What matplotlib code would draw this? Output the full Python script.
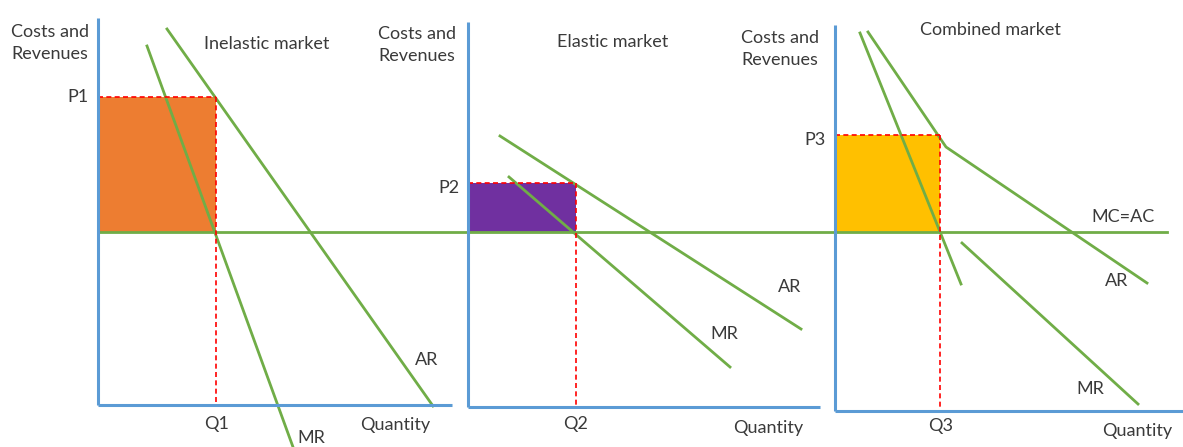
import matplotlib
matplotlib.use("Agg")
import matplotlib.pyplot as plt
from matplotlib.patches import Rectangle

plt.rcParams['font.family'] = ['Lato', 'DejaVu Sans']

# ---- data (diagram units = reference pixels, y grows downward) ----
mc_level = 232
mc_x = [98, 1167]

# Panel 1: inelastic market
p1_axis_x, p1_axis_top, p1_axis_bottom, p1_axis_right = 98, 18, 405, 452
p1_q, p1_price = 216, 97
p1_ar_x, p1_ar_y = [167, 433], [29, 406]
p1_mr_x, p1_mr_y = [147, 293], [46, 447]

# Panel 2: elastic market
p2_axis_x, p2_axis_top, p2_axis_bottom, p2_axis_right = 468, 22, 407, 820
p2_q, p2_price = 576, 183
p2_ar_x, p2_ar_y = [500, 801], [136, 329]
p2_mr_x, p2_mr_y = [509, 730], [177, 367]

# Panel 3: combined market
p3_axis_x, p3_axis_top, p3_axis_bottom, p3_axis_right = 835, 25, 411, 1183
p3_q, p3_price = 940, 135
p3_ar_x, p3_ar_y = [868, 946, 1147], [32, 147, 283]
p3_mr1_x, p3_mr1_y = [860, 961], [33, 284]
p3_mr2_x, p3_mr2_y = [962, 1138], [243, 404]

GREEN = '#70AD47'
BLUE = '#5B9BD5'
RED = '#FF0000'

fig = plt.figure(figsize=(11.83, 4.47), dpi=100)
ax = fig.add_axes([0, 0, 1, 1])
ax.set_xlim(0, 1183)
ax.set_ylim(447, 0)
ax.axis('off')

fs = 13
tcol = '#3a3a3a'

def panel(axx, top, bottom, right, q, price, fill):
    ax.add_patch(Rectangle((axx, price), q - axx, mc_level - price,
                           facecolor=fill, edgecolor='none', zorder=1))
    ax.plot([axx, q], [price, price], color=RED, lw=1.2, ls=(0, (3, 2)), zorder=3)
    ax.plot([q, q], [price, bottom], color=RED, lw=1.2, ls=(0, (3, 2)), zorder=3)
    ax.plot([axx, axx], [top, bottom], color=BLUE, lw=2.2, zorder=4, solid_capstyle='butt')
    ax.plot([axx, right], [bottom, bottom], color=BLUE, lw=2.2, zorder=4, solid_capstyle='butt')

panel(p1_axis_x, p1_axis_top, p1_axis_bottom, p1_axis_right, p1_q, p1_price, '#ED7D31')
panel(p2_axis_x, p2_axis_top, p2_axis_bottom, p2_axis_right, p2_q, p2_price, '#7030A0')
panel(p3_axis_x, p3_axis_top, p3_axis_bottom, p3_axis_right, p3_q, p3_price, '#FFC000')

ax.plot(mc_x, [mc_level, mc_level], color=GREEN, lw=2, zorder=2)
for xs, ys in [(p1_ar_x, p1_ar_y), (p1_mr_x, p1_mr_y), (p2_ar_x, p2_ar_y),
               (p2_mr_x, p2_mr_y), (p3_ar_x, p3_ar_y), (p3_mr1_x, p3_mr1_y),
               (p3_mr2_x, p3_mr2_y)]:
    ax.plot(xs, ys, color=GREEN, lw=2, zorder=2)

def t(x, y, s, ha='center'):
    ax.text(x, y, s, fontsize=fs, color=tcol, ha=ha, va='center', linespacing=1.5)

t(50, 43, 'Costs and\nRevenues')
t(417, 45, 'Costs and\nRevenues')
t(780, 49, 'Costs and\nRevenues')
t(267, 44, 'Inelastic market')
t(613, 42, 'Elastic market')
t(990, 30, 'Combined market')
t(89, 97, 'P1', ha='right')
t(460, 188, 'P2', ha='right')
t(826, 140, 'P3', ha='right')
t(217, 424, 'Q1')
t(576, 424, 'Q2')
t(941, 426, 'Q3')
t(395, 425, 'Quantity')
t(768, 428, 'Quantity')
t(1137, 431, 'Quantity')
t(311, 438, 'MR')
t(427, 360, 'AR')
t(790, 287, 'AR')
t(724, 334, 'MR')
t(1123, 217, 'MC=AC')
t(1117, 281, 'AR')
t(1090, 389, 'MR')

fig.savefig('out.png', dpi=100)
